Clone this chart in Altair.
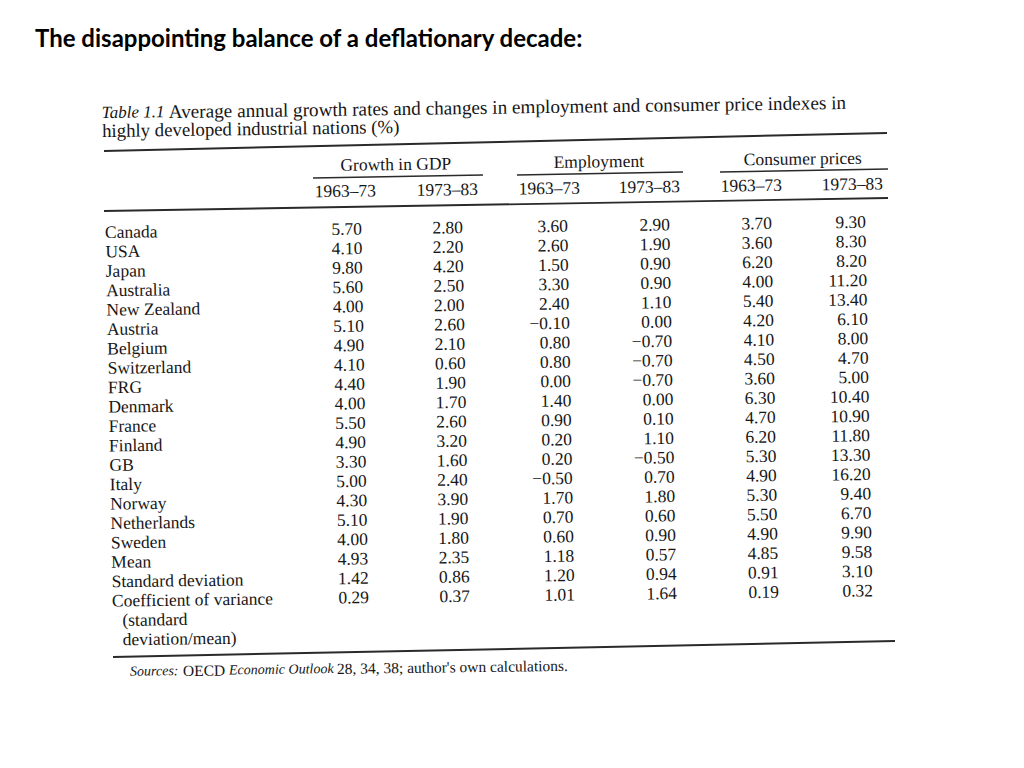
import altair as alt
import pandas as pd
import math

# ---------------- data ----------------
title_text = "The disappointing balance of a deflationary decade:"
caption_label = "Table 1.1"
caption_line1 = "Average annual growth rates and changes in employment and consumer price indexes in"
caption_line2 = "highly developed industrial nations (%)"
group_headers = ["Growth in GDP", "Employment", "Consumer prices"]
period_headers = ["1963–73", "1973–83", "1963–73", "1973–83", "1963–73", "1973–83"]

row_labels = ["Canada", "USA", "Japan", "Australia", "New Zealand", "Austria", "Belgium",
              "Switzerland", "FRG", "Denmark", "France", "Finland", "GB", "Italy", "Norway",
              "Netherlands", "Sweden", "Mean", "Standard deviation", "Coefficient of variance"]
row_label_notes = ["(standard", "deviation/mean)"]

gdp_1963_73 = [5.70, 4.10, 9.80, 5.60, 4.00, 5.10, 4.90, 4.10, 4.40, 4.00, 5.50, 4.90, 3.30, 5.00, 4.30, 5.10, 4.00, 4.93, 1.42, 0.29]
gdp_1973_83 = [2.80, 2.20, 4.20, 2.50, 2.00, 2.60, 2.10, 0.60, 1.90, 1.70, 2.60, 3.20, 1.60, 2.40, 3.90, 1.90, 1.80, 2.35, 0.86, 0.37]
emp_1963_73 = [3.60, 2.60, 1.50, 3.30, 2.40, -0.10, 0.80, 0.80, 0.00, 1.40, 0.90, 0.20, 0.20, -0.50, 1.70, 0.70, 0.60, 1.18, 1.20, 1.01]
emp_1973_83 = [2.90, 1.90, 0.90, 0.90, 1.10, 0.00, -0.70, -0.70, -0.70, 0.00, 0.10, 1.10, -0.50, 0.70, 1.80, 0.60, 0.90, 0.57, 0.94, 1.64]
cpi_1963_73 = [3.70, 3.60, 6.20, 4.00, 5.40, 4.20, 4.10, 4.50, 3.60, 6.30, 4.70, 6.20, 5.30, 4.90, 5.30, 5.50, 4.90, 4.85, 0.91, 0.19]
cpi_1973_83 = [9.30, 8.30, 8.20, 11.20, 13.40, 6.10, 8.00, 4.70, 5.00, 10.40, 10.90, 11.80, 13.30, 16.20, 9.40, 6.70, 9.90, 9.58, 3.10, 0.32]

source_parts = ["Sources:", "OECD", "Economic Outlook", "28, 34, 38; author's own calculations."]
source_italic = [True, False, True, False]

# ---------------- layout (page pixels) ----------------
SERIF = "Liberation Serif"
BODY = 17.5
ROW0 = 233.0
ROWH = 19.4
LABEL_X = 105.0
COL_RIGHT = [362, 463, 568, 670, 772, 866]
COL_CENTER = [346, 448, 550, 650, 752, 853]
GROUP_CENTER = [397, 600, 804]
SRC_X = [130, 183, 229, 337]
SRC_SIZE = [14, 15.5, 14, 15.5]
SLOPE_Y = -0.0135   # scan skew: y change per x pixel
SHEAR_X = 0.019     # scan skew: x change per y pixel
ANGLE = 360 + math.degrees(math.atan(SLOPE_Y))


def place(x, y):
    return x + SHEAR_X * (y - ROW0), y + SLOPE_Y * (x - LABEL_X)


def fmt(v):
    return f"{v:.2f}".replace("-", "−")


left_rows, italic_rows, right_rows, center_rows = [], [], [], []

# caption
x, y = place(104, 113)
italic_rows.append(dict(t=caption_label, x=x, y=y, s=17))
x, y = place(171, 113)
left_rows.append(dict(t=caption_line1, x=x, y=y, s=19.2))
x, y = place(104, 131)
left_rows.append(dict(t=caption_line2, x=x, y=y, s=18.8))

# headers
for g, cx in zip(group_headers, GROUP_CENTER):
    x, y = place(cx, 169)
    center_rows.append(dict(t=g, x=x, y=y, s=BODY))
for p, cx in zip(period_headers, COL_CENTER):
    x, y = place(cx, 195)
    center_rows.append(dict(t=p, x=x, y=y, s=BODY))

# body
columns = [gdp_1963_73, gdp_1973_83, emp_1963_73, emp_1973_83, cpi_1963_73, cpi_1973_83]
for i, lab in enumerate(row_labels):
    ry = ROW0 + i * ROWH
    x, y = place(LABEL_X, ry)
    left_rows.append(dict(t=lab, x=x, y=y, s=BODY))
    for col, rx in zip(columns, COL_RIGHT):
        x, y = place(rx, ry)
        right_rows.append(dict(t=fmt(col[i]), x=x, y=y, s=BODY))
for j, note in enumerate(row_label_notes):
    ry = ROW0 + (len(row_labels) + j) * ROWH
    x, y = place(LABEL_X + 10, ry)
    left_rows.append(dict(t=note, x=x, y=y, s=BODY))

# sources
for part, it, sx, sz in zip(source_parts, source_italic, SRC_X, SRC_SIZE):
    x, y = place(sx - SHEAR_X * (672 - ROW0), 672)
    (italic_rows if it else left_rows).append(dict(t=part, x=x, y=y, s=sz))

# rules (page pixels: x, y, x2, y2, width)
rules = pd.DataFrame([
    dict(x=104, y=151, x2=887, y2=133, w=2.0),
    dict(x=313, y=178, x2=483, y2=175, w=1.5),
    dict(x=517, y=175, x2=683, y2=172, w=1.5),
    dict(x=720, y=172, x2=888, y2=169, w=1.5),
    dict(x=104, y=211, x2=888, y2=198, w=1.8),
    dict(x=113, y=657, x2=895, y2=641, w=2.0),
])

W, H = 1008, 752
xs = alt.Scale(domain=[8, 8 + W], range=[0, W])
ys = alt.Scale(domain=[8, 8 + H], range=[0, H])
X = lambda f: alt.X(f, type="quantitative", scale=xs, axis=None)
Y = lambda f: alt.Y(f, type="quantitative", scale=ys, axis=None)
INK = "#161616"


def text_layer(rows, align, style="normal"):
    return alt.Chart(pd.DataFrame(rows)).mark_text(
        font=SERIF, align=align, baseline="middle", fontStyle=style,
        angle=ANGLE, color=INK
    ).encode(x=X("x"), y=Y("y"), text="t:N", size=alt.Size("s:Q", scale=None))


title = alt.Chart(pd.DataFrame([dict(t=title_text, x=35, y=40)])).mark_text(
    font="Lato", fontWeight="bold", fontSize=24, align="left", baseline="middle", color="#000000"
).encode(x=X("x"), y=Y("y"), text="t:N")

rule_layer = alt.Chart(rules).mark_rule(color="#2a2a2a").encode(
    x=X("x"), y=Y("y"), x2="x2:Q", y2="y2:Q", strokeWidth=alt.StrokeWidth("w:Q", scale=None)
)

chart = alt.layer(
    rule_layer,
    title,
    text_layer(left_rows, "left"),
    text_layer(italic_rows, "left", "italic"),
    text_layer(right_rows, "right"),
    text_layer(center_rows, "center"),
).properties(width=W, height=H, padding=0, background="white").configure_view(stroke=None)

chart.save("out.html", embed_options={"renderer": "svg", "actions": False})
